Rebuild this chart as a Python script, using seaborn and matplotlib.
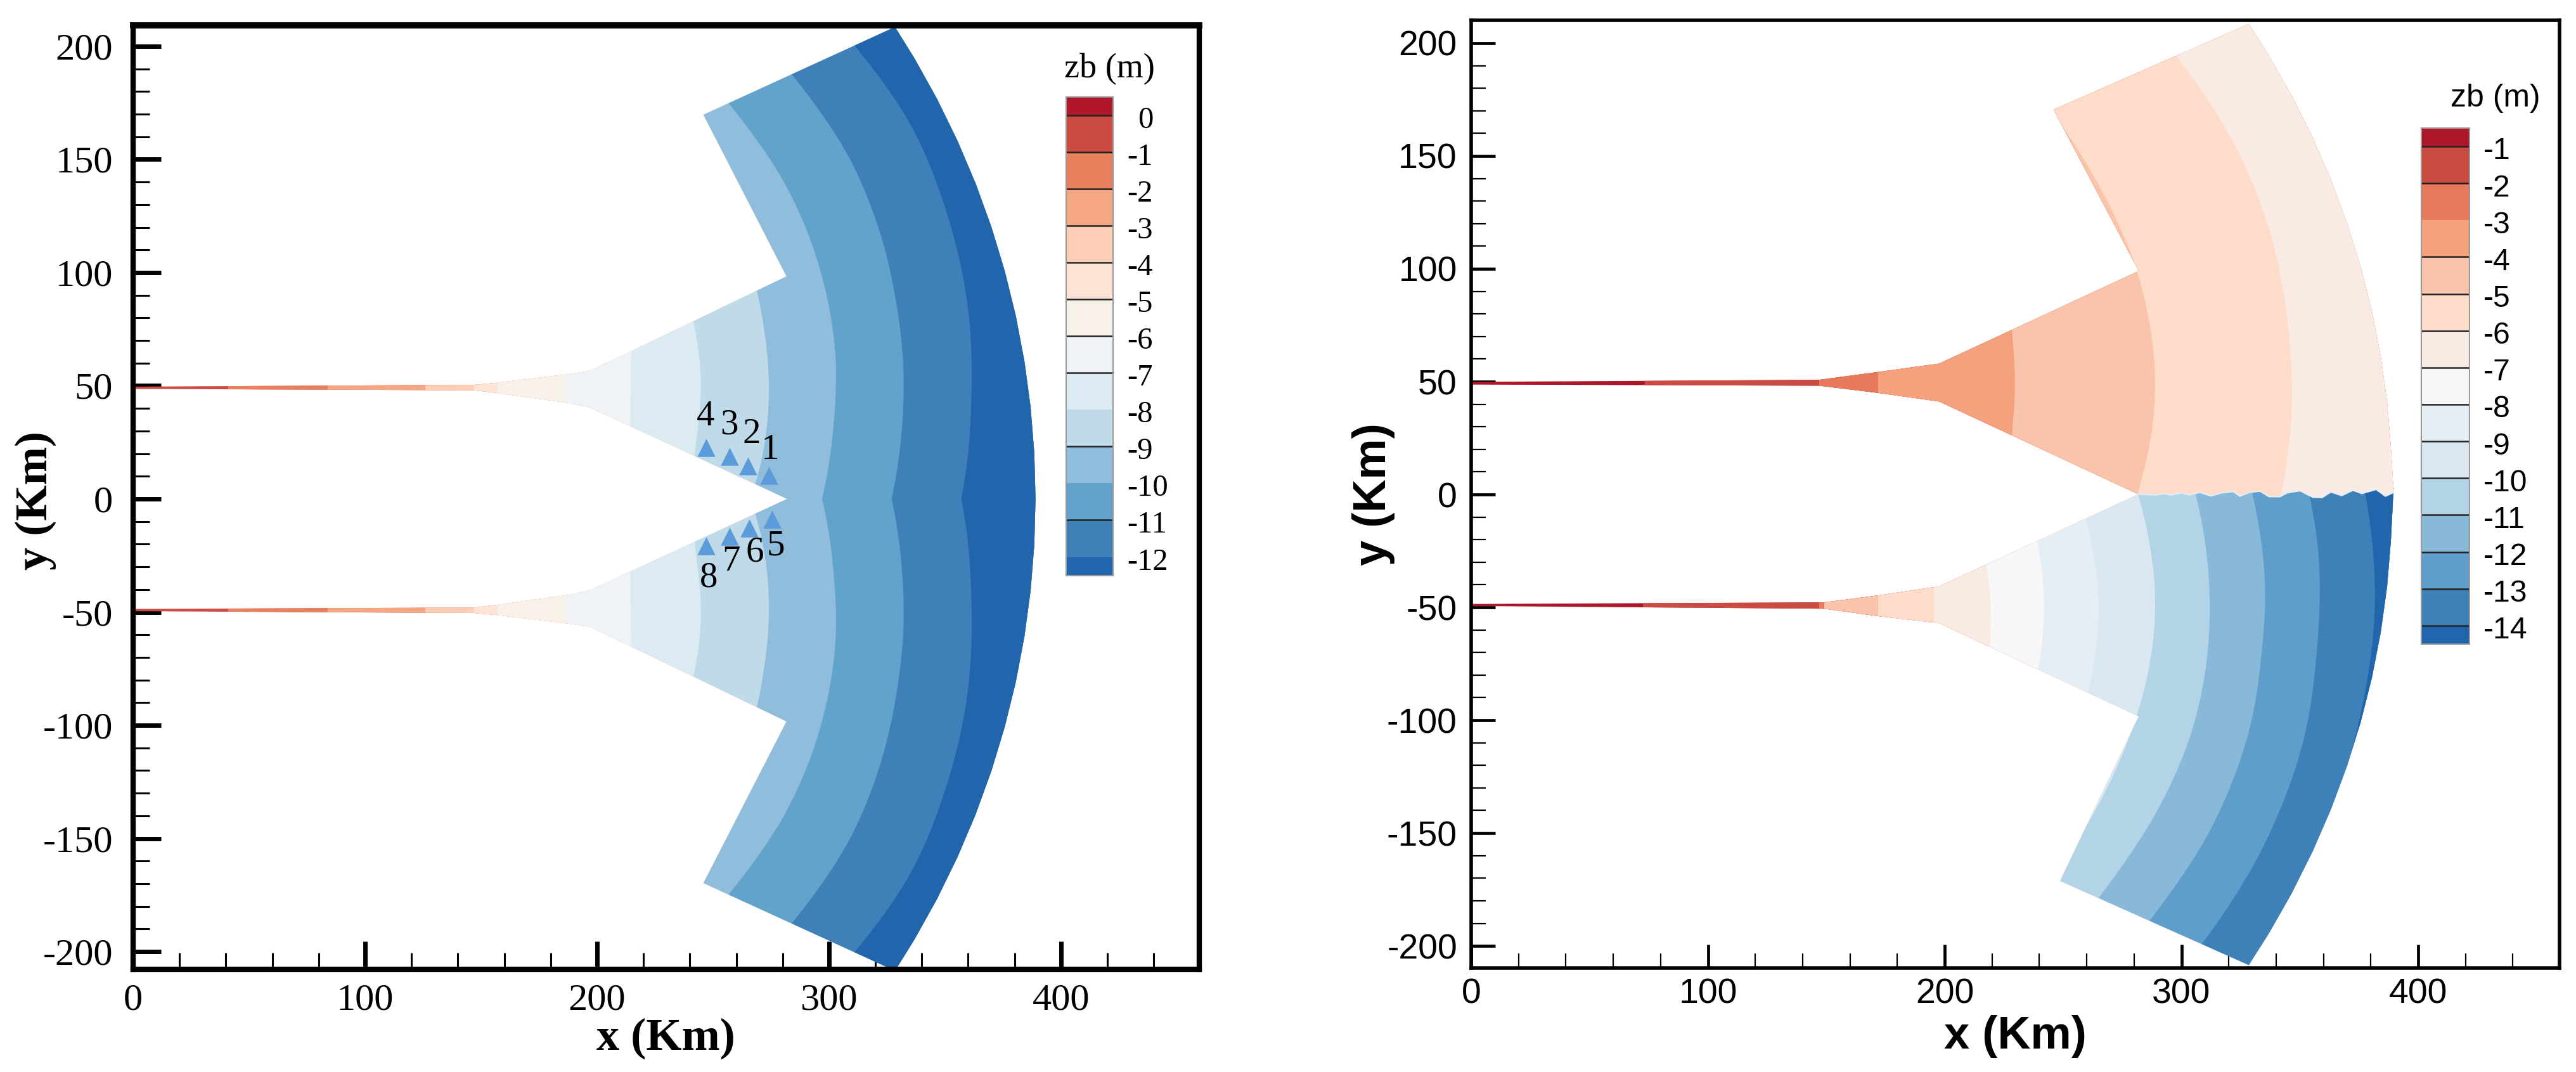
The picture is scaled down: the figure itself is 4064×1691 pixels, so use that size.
#!/usr/bin/env python
from __future__ import annotations

import matplotlib
matplotlib.use("Agg")
import matplotlib.pyplot as plt
import numpy as np
import pandas as pd
import seaborn as sns
from matplotlib.colors import ListedColormap
from matplotlib.patches import Polygon
from matplotlib.ticker import MultipleLocator

W, H = 4064, 1691

# band colours, shallow to deep
LEFT_COLORS = ["#af1629", "#cc4b42", "#e9805c", "#f5a683", "#fcceb6", "#fde3d5", "#f8f1ea",
               "#edf3f6", "#dceaf2", "#bfdbea", "#8fbddb", "#62a3cc", "#3f80b8", "#2166ac"]
RIGHT_COLORS = ["#ae1729", "#cb4a42", "#e8795b", "#f4a17e", "#fac4aa", "#fddcca", "#f9ebe3", "#f7f7f7",
                "#e6eef5", "#d8e7f0", "#b3d3e7", "#88b9d9", "#5f9ecb", "#3e81b9", "#2166ac"]

# angle grid (deg from origin) for the contour boundary radii, km
ANGLES = [0, 2, 4, 6, 8, 10, 12, 16, 20, 26, 32, 38]
OUTER_ANGLES = [32.4, 30, 27, 24, 21, 18, 15, 12, 9, 6, 3, 0]
OUTER_R = 389.0

# left panel: the domain is symmetric about y=0
LEFT_CHANNEL_X = [0, 147, 157, 187, 197]
LEFT_CHANNEL_TOP = [49.6, 50.4, 51.3, 55, 56.5]
LEFT_CHANNEL_BOT = [48.6, 48, 46.8, 42.5, 40.4]
LEFT_CORNERS_X = [281.7, 245.9]
LEFT_CORNERS_Y = [98.3, 169.7]
LEFT_TIP_X = 282
LEFT_VERT_X = [0, 41, 84, 126, 147, 157, 187]
LEFT_VERT_BAND = [1, 2, 3, 4, 5, 6, 7]
LEFT_ROWS = [
    [214, 214, 214.5, 215.5, 216.5, 217.5, 219, 223, 229, 238, 250, 262],
    [240, 241, 242, 244, 246, 248.5, 250.5, 253, 255, 257, 258, 258],
    [266, 269.5, 272, 274.5, 276.5, 278.5, 280, 282.5, 285, 286, 286, 286],
    [297, 299.5, 301.5, 303.5, 305.5, 308, 309.7, 312, 313.5, 314, 311.5, 309],
    [327, 329.5, 331.5, 333.5, 335.5, 337.5, 338.5, 341, 343, 344, 341, 338],
    [357, 359.5, 361.5, 363, 365, 367, 369, 371.5, 373, 374.4, 370.5, 366],
]
LEFT_ROW_BAND = [8, 9, 10, 11, 12, 13]

# stations
STATION_X = [274, 265, 257, 247, 275.4, 265.5, 257, 246.9]
STATION_Y = [10.4, 14.6, 18.8, 22.7, -9, -12.9, -16.5, -20.7]
STATION_NAME = ["1", "2", "3", "4", "5", "6", "7", "8"]
STATION_TEXT_X = [274.6, 266.5, 257, 246.8, 277, 268, 257.7, 248]
STATION_TEXT_Y = [21.6, 28.6, 32.5, 36.4, -21, -23.8, -27.6, -35]

# right panel, upper half
UP_CHANNEL_X = [0, 147, 172, 197.7]
UP_CHANNEL_TOP = [49.9, 50.8, 54.3, 58]
UP_CHANNEL_BOT = [48.7, 48.2, 45, 41.2]
UP_CORNERS_X = [282, 246]
UP_CORNERS_Y = [99, 170.5]
UP_VERT_X = [0, 73.4, 147, 172]
UP_VERT_BAND = [0, 1, 2, 3]
UP_ROWS = [
    [228, 228, 228.5, 229, 231, 233, 235, 238, 242, 250, 260, 270],
    [281.4, 284, 287, 289.5, 291.5, 293.5, 295, 297, 298.5, 298.5, 298.3, 298],
    [342, 344.5, 346.5, 348.7, 350, 351.5, 353, 355.5, 357.5, 358, 356, 354],
]
UP_ROW_BAND = [4, 5, 6]

# wavy interface between the two halves
SEAM_X = [281.7, 289.4, 292.5, 295.5, 300.1, 303.2, 307.8, 312.5, 317, 322, 324.7, 328.6, 333.2,
          337, 341.6, 344.7, 350.1, 355.5, 359.3, 363.1, 367.7, 372.4, 376.2, 382.3, 386.2, 389.6]
SEAM_Y = [0.19, -0.19, 0.37, -0.19, 0.75, -0.19, 0.94, -0.65, 0.75, 1.31, -0.75, 0.94, 1.5,
          -0.94, -0.94, 0.75, 1.68, -1.2, -1.4, 1.12, -0.47, 1.87, 0.47, 2.25, -0.75, 0.94]

# right panel, lower half
LOW_CHANNEL_X = [0, 149, 172, 197.7]
LOW_CHANNEL_TOP = [-48.5, -47.8, -44.7, -40.7]
LOW_CHANNEL_BOT = [-49.4, -50.6, -53.9, -57]
LOW_CORNERS_X = [282, 248.8]
LOW_CORNERS_Y = [-98.3, -171.2]
LOW_VERT_X = [0, 72.6, 147, 149, 172, 195.5]
LOW_VERT_BAND = [0, 1, 2, 4, 5, 6]
LOW_ROWS = [
    [215, 215, 216, 217, 219.5, 222, 224.5, 228, 232, 238, 245, 255],
    [236, 237.5, 239, 241, 243.5, 245.5, 247.5, 250.5, 253, 254, 254, 254],
    [257, 259.5, 262, 264.5, 267, 269.5, 271, 273.5, 276, 277, 277, 277],
    [281.7, 284.5, 287, 289.5, 291.7, 293.5, 295, 297, 298, 298.5, 298.5, 298.5],
    [306, 308.5, 311, 313, 315, 316.8, 318.5, 321, 322.4, 322, 320, 319],
    [330, 332.5, 335, 337, 339, 340, 341, 344.4, 345.7, 346, 343.5, 342],
    [354, 356.5, 359, 360.5, 362, 363, 364.5, 367.8, 369, 369.3, 367.5, 366],
    [377.8, 380, 382, 384, 385.5, 386.5, 387.3, 388.5, 390, 390, 390, 390],
]
LOW_ROW_BAND = [7, 8, 9, 10, 11, 12, 13, 14]

# legends
LEFT_LEVELS = [0, -1, -2, -3, -4, -5, -6, -7, -8, -9, -10, -11, -12]
LEFT_LINE_LEVELS = [0, -1, -2, -3, -4, -5, -6, -7, -9, -11]
RIGHT_LEVELS = [-1, -2, -3, -4, -5, -6, -7, -8, -9, -10, -11, -12, -13, -14]
RIGHT_LINE_LEVELS = [-1, -2, -4, -5, -6, -7, -8, -9, -10, -11, -12, -13, -14]

XTICKS = [0, 100, 200, 300, 400]
YTICKS = [-200, -150, -100, -50, 0, 50, 100, 150, 200]


def arc_points(angles, radius):
    a = np.radians(angles)
    return radius * np.cos(a), radius * np.sin(a)


def smooth_row(dense, row):
    # round off the reading grid, odd padding keeps the kink at y=0
    r = np.interp(dense, ANGLES, row)
    n = 14
    padded = np.pad(r, n, mode="reflect", reflect_type="odd")
    kernel = np.ones(9) / 9
    for _ in range(2):
        padded = np.convolve(padded, kernel, mode="same")
    return padded[n:-n]


def fill_bands(ax, clip, vert_x, vert_band, rows, row_band, palette):
    clip = Polygon(clip, closed=True, transform=ax.transData)
    for x, band in zip(vert_x, vert_band):
        poly = ax.fill([x, 600, 600, x], [-300, -300, 300, 300], color=palette[band], lw=0)[0]
        poly.set_clip_path(clip)
    dense = np.arange(0, 38.5, 0.5)
    for row, band in zip(rows, row_band):
        x, y = arc_points(dense, smooth_row(dense, row))
        px = np.r_[x[-1], x[::-1], x[1:], 600, 600]
        py = np.r_[300, y[::-1], -y[1:], -300, 300]
        poly = ax.fill(px, py, color=palette[band], lw=0)[0]
        poly.set_clip_path(clip)


def left_domain():
    ax_, ay_ = arc_points(OUTER_ANGLES, OUTER_R)
    top_x = np.r_[LEFT_CHANNEL_X, LEFT_CORNERS_X, ax_]
    top_y = np.r_[LEFT_CHANNEL_TOP, LEFT_CORNERS_Y, ay_]
    # go round: upper outer edge, arc, lower outer edge, then back along the inner funnel
    xs = np.r_[top_x, top_x[::-1][1:], LEFT_CHANNEL_X, LEFT_TIP_X, LEFT_CHANNEL_X[::-1]]
    ys = np.r_[top_y, -top_y[::-1][1:], -np.array(LEFT_CHANNEL_BOT), 0, np.array(LEFT_CHANNEL_BOT)[::-1]]
    return np.column_stack([xs, ys])


def upper_domain():
    ax_, ay_ = arc_points(OUTER_ANGLES, OUTER_R)
    xs = np.r_[UP_CHANNEL_X, UP_CORNERS_X, ax_[:-1], SEAM_X[::-1], UP_CHANNEL_X[::-1]]
    ys = np.r_[UP_CHANNEL_TOP, UP_CORNERS_Y, ay_[:-1], SEAM_Y[::-1], UP_CHANNEL_BOT[::-1]]
    return np.column_stack([xs, ys])


def lower_domain():
    ax_, ay_ = arc_points(OUTER_ANGLES, OUTER_R)
    xs = np.r_[LOW_CHANNEL_X, 281.7, 281.7, 389.6, ax_[::-1][1:], LOW_CORNERS_X[::-1], LOW_CHANNEL_X[::-1]]
    ys = np.r_[LOW_CHANNEL_TOP, 0, 3, 3, -ay_[::-1][1:], LOW_CORNERS_Y[::-1], LOW_CHANNEL_BOT[::-1]]
    return np.column_stack([xs, ys])


def style_axes(ax, family, tick_size, spine_w, major, minor, pad_x, pad_y, top_w=None):
    ax.set_xticks(XTICKS)
    ax.set_yticks(YTICKS)
    ax.xaxis.set_minor_locator(MultipleLocator(20))
    ax.yaxis.set_minor_locator(MultipleLocator(10))
    ax.tick_params(which="major", direction="in", length=major[0], width=major[1], color="black")
    ax.tick_params(which="minor", direction="in", length=minor[0], width=minor[1], color="black")
    ax.tick_params(axis="x", which="major", pad=pad_x, labelsize=tick_size)
    ax.tick_params(axis="y", which="major", pad=pad_y, labelsize=tick_size)
    for lab in ax.get_xticklabels() + ax.get_yticklabels():
        lab.set_family(family)
        lab.set_color("black")
    for name, spine in ax.spines.items():
        spine.set_visible(True)
        spine.set_color("black")
        spine.set_linewidth(top_w if (top_w and name == "top") else spine_w)
    ax.grid(False)


def draw_legend(fig, box, levels, line_levels, palette, family, size, title, title_xy, title_size, text_x, offset):
    l, t, r, b = box
    cax = fig.add_axes([l / W, 1 - b / H, (r - l) / W, (b - t) / H])
    edges = np.r_[levels[0] + 0.5, levels, levels[-1] - 0.5]
    cmap = ListedColormap(palette)
    vals = np.arange(len(palette))[:, None]
    cax.pcolormesh([0, 1], edges, vals, cmap=cmap, vmin=-0.5, vmax=len(palette) - 0.5)
    cax.set_xlim(0, 1)
    cax.set_ylim(edges[-1], edges[0])
    cax.hlines(line_levels, 0, 1, color="#222222", lw=1.8)
    cax.set_xticks([])
    cax.set_yticks([])
    for spine in cax.spines.values():
        spine.set_color("#999999")
        spine.set_linewidth(1.5)
    px_per_level = (b - t) / (len(levels))
    for i, lev in enumerate(levels):
        y = t + px_per_level * (i + 0.5) + offset
        x = text_x
        if lev == 0:
            x = text_x + 17
        fig.text(x / W, 1 - y / H, str(lev), family=family, fontsize=size, va="center", ha="left", color="black")
    fig.text(title_xy[0] / W, 1 - title_xy[1] / H, title, family=family, fontsize=title_size,
             va="center", ha="center", color="black")


sns.set_theme(style="ticks")
plt.rcParams["axes.unicode_minus"] = False

fig = plt.figure(figsize=(W / 100, H / 100), dpi=100, facecolor="white")

# left panel
ax1 = fig.add_axes([210 / W, 1 - 1529 / H, (1892 - 210) / W, (1529 - 40) / H])
pal14 = sns.color_palette(LEFT_COLORS)
fill_bands(ax1, left_domain(), LEFT_VERT_X, LEFT_VERT_BAND, LEFT_ROWS, LEFT_ROW_BAND, pal14)
stations = pd.DataFrame({"x": STATION_X, "y": STATION_Y})
sns.scatterplot(data=stations, x="x", y="y", marker="^", s=420, color="#5b9bd9", linewidth=0, ax=ax1, zorder=5)
for name, tx, ty in zip(STATION_NAME, STATION_TEXT_X, STATION_TEXT_Y):
    ax1.text(tx, ty, name, family="Liberation Serif", fontsize=41, ha="center", va="center", color="black", zorder=6)
ax1.set_xlim(0, 459.6)
ax1.set_ylim(-207.8, 209.2)
style_axes(ax1, "Liberation Serif", 43.5, 6, (32, 5), (19, 2.2), 16, 23, top_w=7)
ax1.set_xlabel("")
ax1.set_ylabel("")
fig.text(1050 / W, 1 - 1638 / H, "x (Km)", family="Liberation Serif", fontweight="bold", fontsize=52,
         ha="center", va="center", color="black")
fig.text(56 / W, 1 - 790 / H, "y (Km)", family="Liberation Serif", fontweight="bold", fontsize=52,
         ha="center", va="center", rotation=90, color="black")
draw_legend(fig, (1682, 152.6, 1756, 907.6), LEFT_LEVELS, LEFT_LINE_LEVELS, pal14, "Liberation Serif", 35,
            "zb (m)", (1750, 109), 39, 1778, 8)

# right panel
ax2 = fig.add_axes([2321 / W, 1 - 1527 / H, (4038 - 2321) / W, (1527 - 32) / H])
pal15 = sns.color_palette(RIGHT_COLORS)
fill_bands(ax2, lower_domain(), LOW_VERT_X, LOW_VERT_BAND, LOW_ROWS, LOW_ROW_BAND, pal15)
fill_bands(ax2, upper_domain(), UP_VERT_X, UP_VERT_BAND, UP_ROWS, UP_ROW_BAND, pal15)
seam = pd.DataFrame({"x": SEAM_X, "y": SEAM_Y})
sns.lineplot(data=seam, x="x", y="y", sort=False, estimator=None, color="#e4edf3", lw=1.6, ax=ax2)
ax2.set_xlim(0, 459.7)
ax2.set_ylim(-209.8, 210.1)
style_axes(ax2, "Liberation Sans", 40, 4, (27, 3.4), (16.5, 1.6), 11, 16)
ax2.set_xlabel("")
ax2.set_ylabel("")
fig.text(3179 / W, 1 - 1635 / H, "x (Km)", family="Liberation Sans", fontweight="bold", fontsize=52,
         ha="center", va="center", color="black")
fig.text(2167 / W, 1 - 780 / H, "y (Km)", family="Liberation Sans", fontweight="bold", fontsize=52,
         ha="center", va="center", rotation=90, color="black")
draw_legend(fig, (3820, 201.8, 3896, 1016), RIGHT_LEVELS, RIGHT_LINE_LEVELS, pal15, "Liberation Sans", 34.7,
            "zb (m)", (3937, 155), 36, 3918, 8)

fig.savefig("out.png", dpi=100, facecolor="white")
plt.close(fig)
